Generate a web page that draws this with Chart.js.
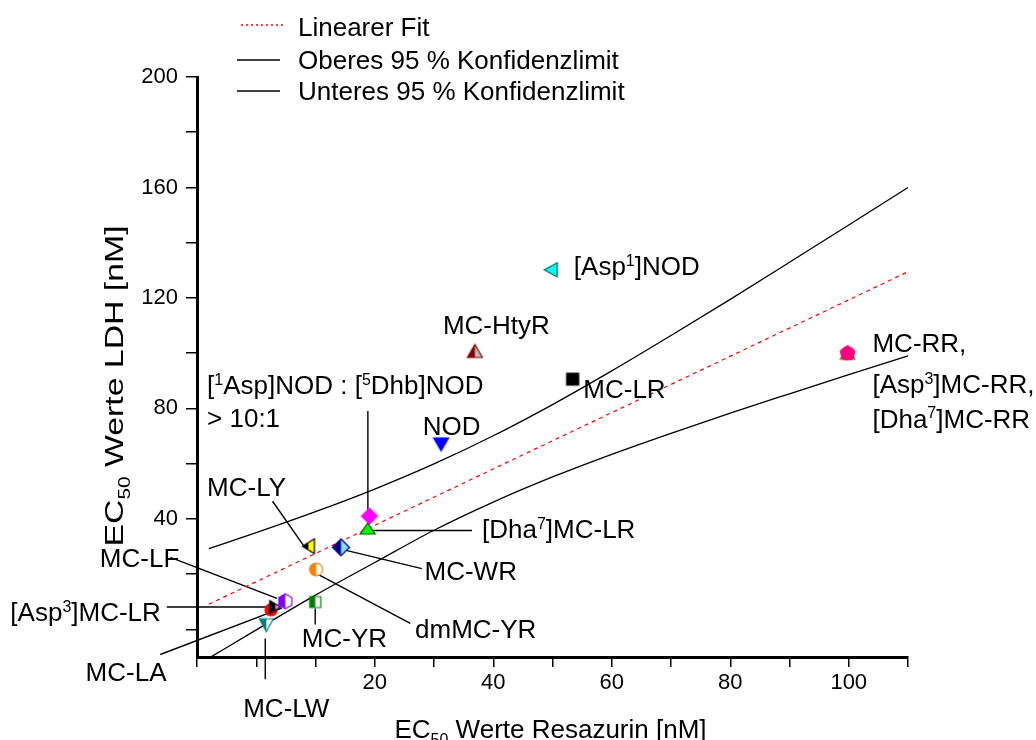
<!DOCTYPE html>
<html><head><meta charset="utf-8">
<script src="https://cdn.jsdelivr.net/npm/chart.js@4.4.0/dist/chart.umd.min.js"></script>
<style>html,body{margin:0;padding:0;background:#fff;}canvas{display:block;}</style>
</head><body>
<canvas id="c" width="1036" height="740"></canvas>
<script>
// ---------- data ----------
const compounds = ['MC-LR','MC-HtyR','[Asp1]NOD','NOD','[Dha7]MC-RR','[Asp3]MC-RR','MC-RR','[1Asp]NOD:[5Dhb]NOD','[Dha7]MC-LR','MC-LY','MC-WR','dmMC-YR','MC-YR','[Asp3]MC-LR','MC-LA','MC-LF','MC-LW'];
const ec50Resazurin = [53.4, 36.9, 49.7, 31.2, 99.8, 99.8, 99.8, 19.1, 18.8, 8.8, 14.3, 10.1, 9.95, 2.5, 3.2, 4.9, 1.7];
const ec50LDH       = [90.6, 100.8, 130.2, 67.0, 100.0, 100.0, 100.0, 41.0, 36.5, 30.1, 29.7, 21.7, 9.9, 7.1, 8.1, 10.2, 1.5];
const fitX = [-8, 110];
const fitY = [9.1, 129.5];
const bandX  = [-8, 0, 10, 20, 30, 40, 50, 60, 70, 80, 90, 100, 110];
const upperY = [29.2, 35.0, 42.6, 50.8, 59.9, 70.1, 81.4, 93.6, 106.4, 119.5, 132.9, 146.4, 160.0];
const lowerY = [-10.4, -0.2, 12.4, 24.2, 35.9, 46.1, 55.2, 63.4, 71.0, 78.3, 85.3, 92.2, 99.0];
const xTickValues = [-10, 0, 10, 20, 30, 40, 50, 60, 70, 80, 90, 100, 110];
const xTickLabels = [20, 40, 60, 80, 100];
const yTickValues = [0, 20, 40, 60, 80, 100, 120, 140, 160, 180, 200];
const yTickLabels = [40, 80, 120, 160, 200];
const legendLabels = ['Linearer Fit', 'Oberes 95 % Konfidenzlimit', 'Unteres 95 % Konfidenzlimit'];

// ---------- marker styles ----------
function marker(shape, c1, c2, stroke, w, h) {
  const pad = 2;
  const cv = document.createElement('canvas');
  cv.width = Math.ceil(w + pad * 2); cv.height = Math.ceil(h + pad * 2);
  const g = cv.getContext('2d');
  const cx = cv.width / 2, cy = cv.height / 2, rx = w / 2, ry = h / 2;
  const p = new Path2D();
  const poly = pts => { p.moveTo(cx + pts[0][0], cy + pts[0][1]); for (let i = 1; i < pts.length; i++) p.lineTo(cx + pts[i][0], cy + pts[i][1]); p.closePath(); };
  if (shape === 'square') p.rect(cx - rx, cy - ry, w, h);
  else if (shape === 'circle') p.ellipse(cx, cy, rx, ry, 0, 0, Math.PI * 2);
  else if (shape === 'up') poly([[0, -ry], [rx, ry], [-rx, ry]]);
  else if (shape === 'down') poly([[-rx, -ry], [rx, -ry], [0, ry]]);
  else if (shape === 'left') poly([[-rx, 0], [rx, -ry], [rx, ry]]);
  else if (shape === 'right') poly([[-rx, -ry], [rx, 0], [-rx, ry]]);
  else if (shape === 'diamond') poly([[0, -ry], [rx, 0], [0, ry], [-rx, 0]]);
  else if (shape === 'hex') poly([[0, -ry], [rx, -ry / 2], [rx, ry / 2], [0, ry], [-rx, ry / 2], [-rx, -ry / 2]]);
  else if (shape === 'pent') { const pts = []; for (let i = 0; i < 5; i++) { const a = -Math.PI / 2 + i * 2 * Math.PI / 5; pts.push([rx * Math.cos(a), ry * Math.sin(a)]); } poly(pts); }
  g.fillStyle = c1; g.fill(p);
  if (c2) { g.save(); g.beginPath(); g.rect(cx, 0, cx, cv.height); g.clip(); g.fillStyle = c2; g.fill(p); g.restore(); }
  if (stroke) { g.strokeStyle = stroke; g.lineWidth = 1.2; g.stroke(p); }
  return cv;
}
const markerStyles = {
  'MC-LR': marker('square', '#000000', null, '#000000', 12, 12),
  'MC-HtyR': marker('up', '#800000', '#c0c0c0', '#800000', 15, 13),
  '[Asp1]NOD': marker('left', '#00ffff', null, '#006060', 13, 14),
  'NOD': marker('down', '#0000ff', null, '#0000ff', 15, 13),
  '[Dha7]MC-RR': marker('up', '#808000', null, '#808000', 15, 12),
  '[Asp3]MC-RR': marker('circle', '#ff0080', null, '#ff0080', 13, 13),
  'MC-RR': marker('pent', '#ff0080', null, '#ff0080', 15, 15),
  '[1Asp]NOD:[5Dhb]NOD': marker('diamond', '#ff00ff', null, '#ff00ff', 16, 16),
  '[Dha7]MC-LR': marker('up', '#00ff00', null, '#005000', 15, 11),
  'MC-LY': marker('left', '#000000', '#ffff00', '#000000', 12, 15),
  'MC-WR': marker('diamond', '#000080', '#80e0ff', '#000080', 17, 17),
  'dmMC-YR': marker('circle', '#ff8000', '#ffffff', '#ff8000', 13, 13),
  'MC-YR': marker('square', '#008000', '#ffffff', '#008000', 11, 11),
  '[Asp3]MC-LR': marker('circle', '#ff0000', null, '#ff0000', 12, 12),
  'MC-LA': marker('right', '#000000', '#ff80ff', '#000000', 11, 13),
  'MC-LF': marker('hex', '#8000ff', '#ffffff', '#8000ff', 13, 15),
  'MC-LW': marker('down', '#008080', '#ffffff', '#008080', 14, 13)
};

// ---------- annotations (data coordinates) ----------
const FONT = '"Liberation Sans", Arial, sans-serif';
const pointLabels = [
  {t: [['[Asp'], ['1', 1], [']NOD']], x: 53.6, y: 131.5},
  {t: [['MC-HtyR']], x: 31.5, y: 110.3},
  {t: [['MC-LR']], x: 55.2, y: 87.2},
  {t: [['NOD']], x: 28.1, y: 73.6},
  {t: [['[Dha'], ['7', 1], [']MC-LR']], x: 38.1, y: 36.5},
  {t: [['MC-WR']], x: 28.4, y: 21.4},
  {t: [['dmMC-YR']], x: 26.8, y: 0.3},
  {t: [['MC-YR']], x: 7.7, y: -3.1},
  {t: [['MC-LF']], x: -26.4, y: 26.1},
  {t: [['[Asp'], ['3', 1], [']MC-LR']], x: -41.5, y: 6.3},
  {t: [['MC-LA']], x: -28.8, y: -15.2},
  {t: [['MC-LW']], x: -2.2, y: -28.3},
  {t: [['MC-LY']], x: -8.3, y: 51.6},
  {t: [['['], ['1', 1], ['Asp]NOD : ['], ['5', 1], ['Dhb]NOD']], x: -8.3, y: 88.5},
  {t: [['> 10:1']], x: -8.3, y: 76.5},
  {t: [['MC-RR,']], x: 104, y: 103.9},
  {t: [['[Asp'], ['3', 1], [']MC-RR,']], x: 104, y: 89.0},
  {t: [['[Dha'], ['7', 1], [']MC-RR']], x: 104, y: 76.4}
];
const leaderLines = [
  [18.84, 79.1, 18.84, 42.8],
  [19.74, 35.8, 36.4, 35.8],
  [2.75, 46.4, 8.0, 30.3],
  [15.0, 28.7, 27.95, 22.0],
  [10.5, 19.8, 26.0, 2.2],
  [9.95, 7.6, 9.95, 1.8],
  [-14.5, 26.1, 3.5, 11.2],
  [-15.1, 8.1, 2.65, 8.1],
  [-16.2, -9.1, 4.3, 7.7],
  [1.52, -3.3, 1.52, -18.1]
];

function drawRich(ctx, parts, x, baseline, size) {
  let cx = x;
  for (const [txt, kind] of parts) {
    if (kind === 1) { ctx.font = Math.round(size * 0.6) + 'px ' + FONT; ctx.fillText(txt, cx, baseline - size * 0.36); }
    else if (kind === 2) { ctx.font = Math.round(size * 0.6) + 'px ' + FONT; ctx.fillText(txt, cx, baseline + size * 0.25); }
    else { ctx.font = size + 'px ' + FONT; ctx.fillText(txt, cx, baseline); }
    cx += ctx.measureText(txt).width;
  }
  return cx - x;
}
function richWidth(ctx, parts, size) {
  let w = 0;
  for (const [txt, kind] of parts) { ctx.font = (kind ? Math.round(size * 0.6) : size) + 'px ' + FONT; w += ctx.measureText(txt).width; }
  return w;
}

const annot = {
  id: 'annot',
  beforeDatasetsDraw(chart) {
    const {ctx, scales: {x, y}} = chart;
    ctx.save();
    ctx.strokeStyle = '#000'; ctx.lineWidth = 1.4;
    for (const [x1, y1, x2, y2] of leaderLines) {
      ctx.beginPath(); ctx.moveTo(x.getPixelForValue(x1), y.getPixelForValue(y1));
      ctx.lineTo(x.getPixelForValue(x2), y.getPixelForValue(y2)); ctx.stroke();
    }
    ctx.restore();
  },
  afterDraw(chart) {
    const {ctx, scales: {x, y}, chartArea} = chart;
    const S = 26, capHalf = S * 0.716 / 2;
    ctx.save();
    ctx.fillStyle = '#000'; ctx.textBaseline = 'alphabetic'; ctx.textAlign = 'left';
    for (const l of pointLabels) drawRich(ctx, l.t, x.getPixelForValue(l.x), y.getPixelForValue(l.y) + capHalf, S);
    // legend
    const lx = chartArea.left + 40, tx = chartArea.left + 101;
    const ly = [27, 60, 91];
    ctx.lineWidth = 1.3;
    ctx.strokeStyle = '#ff0000'; ctx.setLineDash([2, 3]);
    ctx.beginPath(); ctx.moveTo(lx + 4, ly[0] - 2); ctx.lineTo(lx + 47, ly[0] - 2); ctx.stroke();
    ctx.setLineDash([]); ctx.strokeStyle = '#000';
    for (let i = 1; i < 3; i++) { ctx.beginPath(); ctx.moveTo(lx, ly[i]); ctx.lineTo(lx + 43, ly[i]); ctx.stroke(); }
    ctx.font = S + 'px ' + FONT;
    for (let i = 0; i < 3; i++) ctx.fillText(legendLabels[i], tx, ly[i] + capHalf);
    // x title
    const xt = [['EC'], ['50', 2], [' Werte Resazurin [nM]']];
    const xw = richWidth(ctx, xt, S);
    drawRich(ctx, xt, (chartArea.left + chartArea.right) / 2 - xw / 2 - 2, 738, S);
    // y title (rotated, slightly stretched along its length)
    const yt = [['EC'], ['50', 2], [' Werte LDH [nM]']];
    const yw = richWidth(ctx, yt, S);
    const stretch = 1.3;
    ctx.translate(123, 386); ctx.rotate(-Math.PI / 2); ctx.scale(stretch, 1);
    drawRich(ctx, yt, -yw / 2, 0, S);
    ctx.restore();
  }
};

// ---------- chart ----------
const pts = compounds.map((c, i) => ({x: ec50Resazurin[i], y: ec50LDH[i]}));
const tickFont = {family: FONT, size: 22};
new Chart(document.getElementById('c'), {
  type: 'scatter',
  data: {
    datasets: [
      {data: pts, pointStyle: compounds.map(c => markerStyles[c]), pointRadius: 8, pointHoverRadius: 8, showLine: false, clip: false},
      {data: fitX.map((v, i) => ({x: v, y: fitY[i]})), showLine: true, borderColor: '#ff0000', borderDash: [4, 4], borderWidth: 1.2, pointRadius: 0},
      {data: bandX.map((v, i) => ({x: v, y: upperY[i]})), showLine: true, borderColor: '#000', borderWidth: 1.3, pointRadius: 0, cubicInterpolationMode: 'monotone'},
      {data: bandX.map((v, i) => ({x: v, y: lowerY[i]})), showLine: true, borderColor: '#000', borderWidth: 1.3, pointRadius: 0, cubicInterpolationMode: 'monotone', clip: 4}
    ]
  },
  options: {
    responsive: false, animation: false, devicePixelRatio: 1, events: [],
    layout: {padding: {left: 0, right: 128, top: 77, bottom: 0}},
    plugins: {legend: {display: false}, tooltip: {enabled: false}},
    scales: {
      x: {
        type: 'linear', min: -10, max: 110,
        afterBuildTicks: s => { s.ticks = xTickValues.map(v => ({value: v})); },
        afterFit: s => { s.height = 83; },
        ticks: {autoSkip: false, maxRotation: 0, padding: 3, color: '#000', font: tickFont,
          callback: v => xTickLabels.includes(v) ? String(v) : ''},
        grid: {drawOnChartArea: false, drawTicks: true, tickLength: 10, color: '#000', lineWidth: 1.5},
        border: {display: true, color: '#000', width: 3}
      },
      y: {
        type: 'linear', min: -10, max: 200,
        afterBuildTicks: s => { s.ticks = yTickValues.map(v => ({value: v})); },
        afterFit: s => { s.width = 197; },
        ticks: {autoSkip: false, padding: 8, color: '#000', font: tickFont,
          callback: v => yTickLabels.includes(v) ? String(v) : ''},
        grid: {drawOnChartArea: false, drawTicks: true, tickLength: 11, color: '#000', lineWidth: 1.5},
        border: {display: true, color: '#000', width: 3}
      }
    }
  },
  plugins: [annot]
});
</script>
</body></html>
